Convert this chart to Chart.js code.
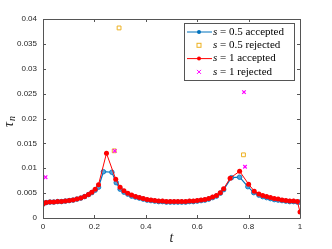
<!DOCTYPE html>
<html>
<head>
<meta charset="utf-8">
<script src="https://cdn.jsdelivr.net/npm/chart.js@4/dist/chart.umd.min.js"></script>
<style>
  html, body { margin: 0; padding: 0; background: #fff; }
  #tau_chart { display: block; }
</style>
</head>
<body>
<canvas id="tau_chart" width="332" height="249"></canvas>
<script>
// s = 0.5 accepted
const tHalf = [0, 0.012, 0.027, 0.042, 0.057, 0.072, 0.087, 0.102, 0.117, 0.132, 0.147, 0.162, 0.177, 0.19, 0.203, 0.216,
    0.235, 0.268, 0.285, 0.3, 0.315, 0.33, 0.345, 0.36, 0.375, 0.39, 0.405, 0.42, 0.435, 0.45, 0.465, 0.48, 0.495,
    0.51, 0.525, 0.54, 0.555, 0.57, 0.585, 0.6, 0.615, 0.63, 0.645, 0.66, 0.675, 0.69, 0.703, 0.733, 0.765, 0.797,
    0.82, 0.84, 0.855, 0.87, 0.885, 0.9, 0.915, 0.93, 0.945, 0.96, 0.975, 0.99, 1.0];
const tauHalf = [0.0028, 0.0031, 0.0032, 0.0032, 0.0033, 0.0033, 0.0034, 0.0035, 0.0036, 0.0038, 0.0040, 0.0043, 0.0047, 0.0051, 0.0056, 0.0062,
    0.0093, 0.0092, 0.0071, 0.0058, 0.0052, 0.0048, 0.0044, 0.0042, 0.0040, 0.0038, 0.0036, 0.0035, 0.0034, 0.0033, 0.0033, 0.0032, 0.0032,
    0.0032, 0.0032, 0.0032, 0.0032, 0.0033, 0.0033, 0.0034, 0.0035, 0.0036, 0.0038, 0.0041, 0.0044, 0.0050, 0.0057, 0.0081, 0.0082, 0.0063,
    0.0051, 0.0046, 0.0043, 0.0041, 0.0039, 0.0037, 0.0036, 0.0035, 0.0034, 0.0033, 0.0033, 0.0032, 0.0032];

// s = 1 accepted
const tOne = [0, 0.012, 0.027, 0.042, 0.057, 0.072, 0.087, 0.102, 0.117, 0.132, 0.147, 0.162, 0.177, 0.19, 0.203, 0.216,
    0.247, 0.283, 0.3, 0.315, 0.33, 0.345, 0.36, 0.375, 0.39, 0.405, 0.42, 0.435, 0.45, 0.465, 0.48, 0.495,
    0.51, 0.525, 0.54, 0.555, 0.57, 0.585, 0.6, 0.615, 0.63, 0.645, 0.66, 0.675, 0.69, 0.703, 0.728, 0.765, 0.80,
    0.822, 0.84, 0.855, 0.87, 0.885, 0.9, 0.915, 0.93, 0.945, 0.96, 0.975, 0.99, 1.0];
const tauOne = [0.0028, 0.0031, 0.0032, 0.0032, 0.0033, 0.0033, 0.0034, 0.0035, 0.0036, 0.0038, 0.0040, 0.0043, 0.0047, 0.0052, 0.0058, 0.0067,
    0.0130, 0.0078, 0.0062, 0.0055, 0.0050, 0.0046, 0.0043, 0.0041, 0.0039, 0.0037, 0.0036, 0.0035, 0.0034, 0.0034, 0.0033, 0.0033,
    0.0033, 0.0033, 0.0033, 0.0033, 0.0034, 0.0034, 0.0035, 0.0036, 0.0037, 0.0039, 0.0042, 0.0045, 0.0051, 0.0059, 0.0080, 0.0094, 0.0068,
    0.0054, 0.0048, 0.0045, 0.0043, 0.0041, 0.0039, 0.0038, 0.0036, 0.0035, 0.0034, 0.0034, 0.0033, 0.0012];

// rejected steps
const tRejHalf = [0.296, 0.277, 0.78];
const tauRejHalf = [0.0382, 0.0135, 0.0127];
const tRejOne = [0.01, 0.279, 0.782, 0.786];
const tauRejOne = [0.0082, 0.0135, 0.0253, 0.0103];

// ticks
const xTicks = [0, 0.2, 0.4, 0.6, 0.8, 1];
const xTickLabels = ['0', '0.2', '0.4', '0.6', '0.8', '1'];
const yTicks = [0, 0.005, 0.01, 0.015, 0.02, 0.025, 0.03, 0.035, 0.04];
const yTickLabels = ['0', '0.005', '0.01', '0.015', '0.02', '0.025', '0.03', '0.035', '0.04'];

const legendItems = [
    { s: '0.5', txt: 'accepted', kind: 'blue' },
    { s: '0.5', txt: 'rejected', kind: 'square' },
    { s: '1', txt: 'accepted', kind: 'red' },
    { s: '1', txt: 'rejected', kind: 'cross' }
];

const BLUE = '#0072BD';
const RED = '#FF0000';
const ORANGE = '#EDB120';
const MAGENTA = '#FF00FF';
const AXIS = '#262626';

function toPoints(xs, ys) {
    return xs.map((x, i) => ({ x: x, y: ys[i] }));
}

// box, inward ticks, axis titles and legend
const matlabStyle = {
    id: 'matlabStyle',
    afterDraw(chart) {
        const ctx = chart.ctx;
        const { left, right, top, bottom } = chart.chartArea;
        const xs = chart.scales.x, ys = chart.scales.y;
        ctx.save();
        ctx.strokeStyle = '#555';
        ctx.lineWidth = 1;
        ctx.beginPath();
        ctx.rect(Math.round(left) + 0.5, Math.round(top) + 0.5, Math.round(right - left), Math.round(bottom - top));
        xTicks.forEach(v => {
            const p = Math.round(xs.getPixelForValue(v)) + 0.5;
            ctx.moveTo(p, bottom); ctx.lineTo(p, bottom - 3);
            ctx.moveTo(p, top); ctx.lineTo(p, top + 3);
        });
        yTicks.forEach(v => {
            const p = Math.round(ys.getPixelForValue(v)) + 0.5;
            ctx.moveTo(left, p); ctx.lineTo(left + 3, p);
            ctx.moveTo(right, p); ctx.lineTo(right - 3, p);
        });
        ctx.stroke();

        // axis titles
        ctx.fillStyle = AXIS;
        ctx.font = 'italic 14px "Liberation Serif"';
        ctx.textAlign = 'center';
        ctx.textBaseline = 'middle';
        ctx.fillText('t', (left + right) / 2, 238);

        ctx.save();
        ctx.translate(9, 121);
        ctx.rotate(-Math.PI / 2);
        ctx.font = 'italic 14px "Liberation Serif"';
        ctx.textAlign = 'left';
        ctx.fillText('τ', -6, 0);
        ctx.font = 'italic 10px "Liberation Serif"';
        ctx.fillText('n', 0, 3);
        ctx.restore();

        // legend
        const bx = 184.5, by = 23.5, bw = 110, bh = 57;
        ctx.fillStyle = '#fff';
        ctx.fillRect(bx, by, bw, bh);
        ctx.strokeStyle = '#555';
        ctx.lineWidth = 1;
        ctx.strokeRect(bx, by, bw, bh);
        legendItems.forEach((it, i) => {
            const cy = 32 + i * 13.3;
            const mx = 199;
            if (it.kind === 'blue' || it.kind === 'red') {
                const c = it.kind === 'blue' ? BLUE : RED;
                ctx.strokeStyle = c;
                ctx.lineWidth = 1;
                ctx.beginPath();
                ctx.moveTo(187, cy); ctx.lineTo(212, cy);
                ctx.stroke();
                ctx.fillStyle = c;
                ctx.beginPath();
                ctx.arc(mx, cy, 2, 0, Math.PI * 2);
                ctx.fill();
            } else if (it.kind === 'square') {
                ctx.strokeStyle = ORANGE;
                ctx.lineWidth = 1;
                ctx.strokeRect(mx - 2, cy - 2, 4, 4);
            } else {
                ctx.strokeStyle = MAGENTA;
                ctx.lineWidth = 1;
                ctx.beginPath();
                ctx.moveTo(mx - 2, cy - 2); ctx.lineTo(mx + 2, cy + 2);
                ctx.moveTo(mx + 2, cy - 2); ctx.lineTo(mx - 2, cy + 2);
                ctx.stroke();
            }
            ctx.fillStyle = '#000';
            ctx.textAlign = 'left';
            ctx.textBaseline = 'middle';
            let x = 213;
            ctx.font = 'italic 11px "Liberation Serif"';
            ctx.fillText('s', x, cy);
            x += ctx.measureText('s').width;
            ctx.font = '11px "Liberation Serif"';
            ctx.fillText(' = ' + it.s + ' ' + it.txt, x, cy);
        });
        ctx.restore();
    }
};

function fnTauChart() {
    const ctx = document.getElementById('tau_chart').getContext('2d');
    new Chart(ctx, {
        type: 'scatter',
        data: {
            datasets: [
                {
                    label: 's = 1 rejected',
                    data: toPoints(tRejOne, tauRejOne),
                    showLine: false,
                    pointStyle: 'crossRot',
                    pointRadius: 2.5,
                    borderColor: MAGENTA,
                    borderWidth: 1.2,
                    order: 0
                },
                {
                    label: 's = 0.5 rejected',
                    data: toPoints(tRejHalf, tauRejHalf),
                    showLine: false,
                    pointStyle: 'rect',
                    pointRadius: 2.7,
                    backgroundColor: 'rgba(0,0,0,0)',
                    borderColor: ORANGE,
                    borderWidth: 1,
                    order: 1
                },
                {
                    label: 's = 1 accepted',
                    data: toPoints(tOne, tauOne),
                    showLine: true,
                    borderColor: RED,
                    backgroundColor: RED,
                    borderWidth: 1,
                    pointRadius: 2.5,
                    pointBorderWidth: 0,
                    pointBackgroundColor: RED,
                    order: 2
                },
                {
                    label: 's = 0.5 accepted',
                    data: toPoints(tHalf, tauHalf),
                    showLine: true,
                    borderColor: BLUE,
                    backgroundColor: '#4DA3DD',
                    borderWidth: 1.2,
                    pointRadius: 2.3,
                    pointBorderWidth: 0.8,
                    pointBorderColor: BLUE,
                    order: 3
                }
            ]
        },
        options: {
            responsive: false,
            animation: false,
            devicePixelRatio: 1,
            layout: { padding: { left: 0, top: 19, right: 32, bottom: 0 } },
            scales: {
                x: {
                    type: 'linear',
                    min: 0,
                    max: 1,
                    afterBuildTicks: s => { s.ticks = xTicks.map(v => ({ value: v })); },
                    afterFit: s => { s.height = 31; },
                    grid: { display: false, drawTicks: false },
                    border: { display: false },
                    ticks: {
                        padding: 4,
                        color: AXIS,
                        font: { family: 'Liberation Sans', size: 8 },
                        maxRotation: 0,
                        callback: (v, i) => xTickLabels[i]
                    }
                },
                y: {
                    type: 'linear',
                    min: 0,
                    max: 0.04,
                    afterBuildTicks: s => { s.ticks = yTicks.map(v => ({ value: v })); },
                    afterFit: s => { s.width = 43; },
                    grid: { display: false, drawTicks: false },
                    border: { display: false },
                    ticks: {
                        padding: 6,
                        color: AXIS,
                        font: { family: 'Liberation Sans', size: 8 },
                        callback: (v, i) => yTickLabels[i]
                    }
                }
            },
            plugins: {
                legend: { display: false },
                tooltip: { enabled: false }
            }
        },
        plugins: [matlabStyle]
    });
}

fnTauChart();
</script>
</body>
</html>
